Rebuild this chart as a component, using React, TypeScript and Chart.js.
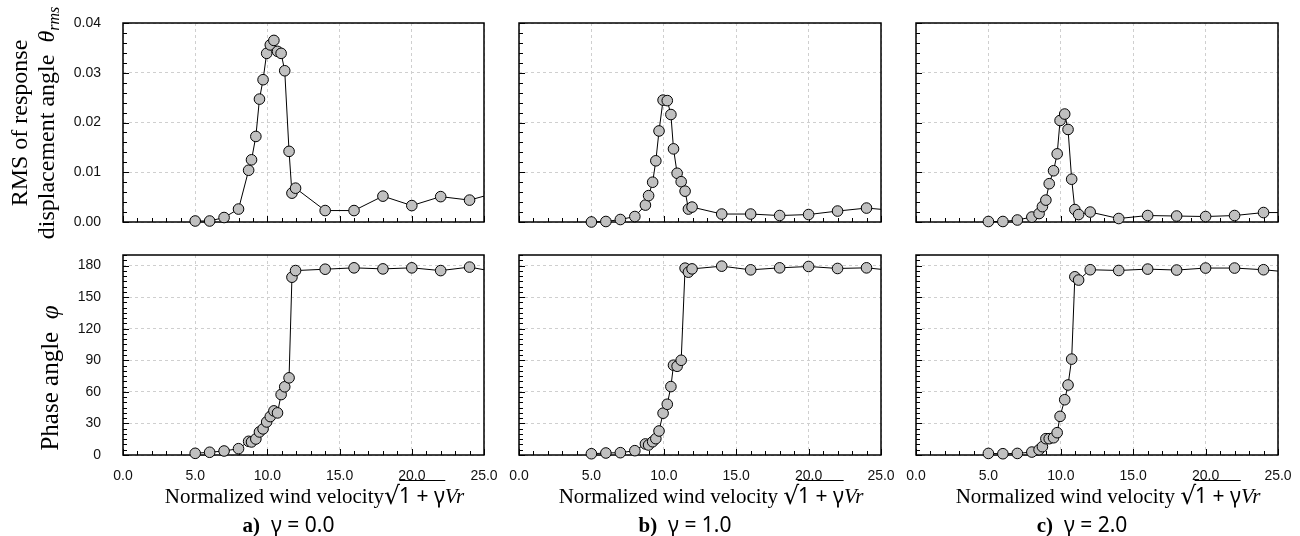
import React, { useEffect, useRef } from "react";
import { Chart, registerables } from "chart.js";

Chart.register(...registerables);

// ---------- data ----------
const velocityA = [5, 6, 7, 8, 8.7, 8.9, 9.2, 9.45, 9.7, 9.95, 10.2, 10.45, 10.7, 10.95, 11.2, 11.5, 11.7, 11.95, 14, 16, 18, 20, 22, 24, 26];
const rmsA = [0.0002, 0.0002, 0.0009, 0.0026, 0.0104, 0.0125, 0.0172, 0.0247, 0.0286, 0.0339, 0.0356, 0.0365, 0.0343, 0.0339, 0.0304, 0.0142, 0.0058, 0.0068, 0.0023, 0.0023, 0.0052, 0.0033, 0.0051, 0.0044, 0.006];
const phaseA = [1.6, 2.6, 3.8, 6.0, 13, 12.4, 15.2, 21.9, 24.8, 31.4, 36.5, 41.9, 40, 57.4, 64.8, 73.3, 168.9, 175.2, 176.5, 177.8, 176.8, 177.8, 175.2, 178.5, 173.5];

const velocityB = [5, 6, 7, 8, 8.73, 8.95, 9.23, 9.45, 9.67, 9.95, 10.24, 10.49, 10.67, 10.92, 11.2, 11.47, 11.7, 11.95, 14, 16, 18, 20, 22, 24, 26];
const rmsB = [0.0, 0.0001, 0.0005, 0.0011, 0.0034, 0.0053, 0.008, 0.0123, 0.0183, 0.0245, 0.0244, 0.0216, 0.0147, 0.0098, 0.0081, 0.0062, 0.0026, 0.003, 0.0016, 0.0016, 0.0013, 0.0015, 0.0022, 0.0028, 0.0023];
const phaseB = [1.2, 1.9, 2.2, 4.1, 10.5, 9.5, 12.6, 15.5, 22.8, 39.7, 48.2, 65, 85.3, 84.3, 90, 177.5, 173.7, 176.8, 179.4, 175.9, 177.8, 179.1, 177.2, 177.8, 175];

const velocityC = [5, 6, 7, 8, 8.5, 8.73, 8.97, 9.2, 9.5, 9.75, 9.95, 10.27, 10.5, 10.75, 10.97, 11.23, 12.03, 14, 16, 18, 20, 22, 24, 26];
const rmsC = [0.0001, 0.0001, 0.0004, 0.001, 0.0017, 0.0031, 0.0044, 0.0077, 0.0103, 0.0137, 0.0204, 0.0217, 0.0186, 0.0086, 0.0025, 0.0015, 0.002, 0.0007, 0.0013, 0.0012, 0.0011, 0.0013, 0.0019, 0.0019];
const phaseC = [1.5, 1.2, 1.5, 2.8, 5, 7.9, 15.5, 15.5, 16.4, 21.2, 36.7, 52.5, 66.5, 91.1, 169.3, 166.2, 176, 175.3, 176.6, 175.7, 177.6, 177.6, 176, 173.4];

const gammaLabels = ["0.0", "1.0", "2.0"];
const panelLetters = ["a)", "b)", "c)"];

const velocityAxis = { min: 0, max: 25, step: 5, minor: 1 };
const rmsAxis = { min: 0, max: 0.04, step: 0.01, minor: 0.002 };
const phaseAxis = { min: 0, max: 190, step: 30, minor: 5 };

// ---------- layout ----------
const colL = [123, 519, 916];
const colR = [484, 881, 1278];
const topRow = { t: 23, b: 222 };
const botRow = { t: 255, b: 455 };

const tickFont = { family: '"Liberation Sans", Arial, sans-serif', size: 14 };

const framePlugin = {
  id: "frameTicks",
  beforeDatasetsDraw(chart: any, _args: any, opts: any) {
    const { ctx, chartArea: a, scales } = chart;
    const xs = scales.x;
    const ys = scales.y;
    ctx.save();
    ctx.strokeStyle = "#000";
    ctx.lineWidth = 1;
    ctx.beginPath();
    const nx = Math.round((opts.xMax - opts.xMin) / opts.xMinor);
    for (let i = 0; i <= nx; i++) {
      const v = opts.xMin + i * opts.xMinor;
      const px = Math.round(xs.getPixelForValue(v)) + 0.5;
      const major = Math.abs(v / opts.xStep - Math.round(v / opts.xStep)) < 1e-6;
      const len = major ? 6 : 4;
      ctx.moveTo(px, a.bottom);
      ctx.lineTo(px, a.bottom - len);
    }
    const ny = Math.round((opts.yMax - opts.yMin) / opts.yMinor);
    for (let i = 0; i <= ny; i++) {
      const v = opts.yMin + i * opts.yMinor;
      const py = Math.round(ys.getPixelForValue(v)) + 0.5;
      const major = Math.abs(v / opts.yStep - Math.round(v / opts.yStep)) < 1e-6;
      const len = major ? 6 : 4;
      ctx.moveTo(a.left, py);
      ctx.lineTo(a.left + len, py);
    }
    ctx.stroke();
    ctx.lineWidth = 1.5;
    ctx.strokeRect(a.left, a.top, a.right - a.left, a.bottom - a.top);
    ctx.restore();
  },
};

type BoxProps = {
  l: number; r: number; t: number; b: number;
  xs: number[]; ys: number[];
  yAxis: { min: number; max: number; step: number; minor: number };
  yDigits: number;
  showY: boolean; showX: boolean;
};

function zeroPad(s: any) {
  s.paddingTop = 0;
  s.paddingBottom = 0;
  s.paddingLeft = 0;
  s.paddingRight = 0;
}

function ChartBox(p: BoxProps) {
  const ref = useRef<HTMLCanvasElement | null>(null);
  const yW = p.showY ? 80 : 10;
  const padTop = 8;
  const padRight = 24;
  const xH = p.showX ? 34 : 8;
  const w = p.r - p.l + yW + padRight;
  const h = p.b - p.t + padTop + xH;

  useEffect(() => {
    if (!ref.current) return;
    const points = p.xs.map((x, i) => ({ x, y: p.ys[i] }));
    const chart = new Chart(ref.current, {
      type: "scatter",
      data: {
        datasets: [
          {
            data: points,
            showLine: true,
            borderColor: "#000",
            borderWidth: 1,
            pointRadius: 5.3,
            pointBorderWidth: 1,
            pointBackgroundColor: "#c0c0c0",
            pointBorderColor: "#000",
            clip: { left: 8, top: 8, right: 0, bottom: 8 } as any,
          } as any,
        ],
      },
      options: {
        animation: false,
        responsive: false,
        events: [],
        layout: { autoPadding: false, padding: { left: 0, top: padTop, right: padRight, bottom: 0 } } as any,
        plugins: {
          legend: { display: false },
          tooltip: { enabled: false },
          frameTicks: {
            xMin: velocityAxis.min, xMax: velocityAxis.max, xStep: velocityAxis.step, xMinor: velocityAxis.minor,
            yMin: p.yAxis.min, yMax: p.yAxis.max, yStep: p.yAxis.step, yMinor: p.yAxis.minor,
          },
        } as any,
        scales: {
          x: {
            type: "linear",
            min: velocityAxis.min,
            max: velocityAxis.max,
            afterFit: (s: any) => { s.height = xH; zeroPad(s); },
            ticks: {
              display: p.showX,
              stepSize: velocityAxis.step,
              font: tickFont,
              color: "#111",
              padding: 13,
              maxRotation: 0,
              autoSkip: false,
              callback: (v: any) => Number(v).toFixed(1),
            },
            grid: { color: "#cfcfcf", lineWidth: 1, drawTicks: false },
            border: { display: false, dash: [3, 3] },
          },
          y: {
            type: "linear",
            min: p.yAxis.min,
            max: p.yAxis.max,
            afterFit: (s: any) => { s.width = yW; zeroPad(s); },
            ticks: {
              display: p.showY,
              stepSize: p.yAxis.step,
              includeBounds: false,
              autoSkip: false,
              font: tickFont,
              color: "#111",
              padding: 22,
              callback: (v: any) => Number(v).toFixed(p.yDigits),
            },
            grid: { color: "#cfcfcf", lineWidth: 1, drawTicks: false },
            border: { display: false, dash: [3, 3] },
          },
        },
      },
      plugins: [framePlugin],
    } as any);
    return () => chart.destroy();
  }, []);

  return (
    <canvas
      ref={ref}
      width={w}
      height={h}
      style={{ position: "absolute", left: p.l - yW, top: p.t - padTop, width: w, height: h }}
    />
  );
}

const serif = '"Liberation Serif", "Times New Roman", serif';
const sans = '"Noto Sans", "DejaVu Sans", sans-serif';

function XTitle({ cx, gap }: { cx: number; gap: boolean }) {
  return (
    <div
      style={{
        position: "absolute", left: cx, top: 484, transform: "translateX(-50%)",
        whiteSpace: "nowrap", fontFamily: serif, fontSize: 21, lineHeight: "21px", color: "#000",
      }}
    >
      Normalized wind velocity{gap ? "\u00a0" : ""}
      <span style={{ fontFamily: '"DejaVu Sans", sans-serif', fontSize: 25, position: "relative", top: 1 }}>√</span>
      <span style={{ fontFamily: sans, borderTop: "1.5px solid #000", marginLeft: -1 }}>1 + γ</span>
      <span style={{ fontStyle: "italic" }}>Vr</span>
    </div>
  );
}

function PanelLabel({ cx, letter, g }: { cx: number; letter: string; g: string }) {
  return (
    <div
      style={{
        position: "absolute", left: cx, top: 514, transform: "translateX(-50%)",
        whiteSpace: "nowrap", fontSize: 21, lineHeight: "21px", color: "#000",
      }}
    >
      <span style={{ fontFamily: serif, fontWeight: "bold" }}>{letter}</span>
      <span style={{ fontFamily: sans }}>{"\u00a0\u00a0γ = " + g}</span>
    </div>
  );
}

export default function App() {
  const sets = [
    { xs: velocityA, rms: rmsA, ph: phaseA },
    { xs: velocityB, rms: rmsB, ph: phaseB },
    { xs: velocityC, rms: rmsC, ph: phaseC },
  ];
  return (
    <div style={{ position: "absolute", left: 0, top: 0, width: 1300, height: 536, overflow: "hidden", background: "#fff" }}>
      {sets.map((s, i) => (
        <React.Fragment key={i}>
          <ChartBox l={colL[i]} r={colR[i]} t={topRow.t} b={topRow.b} xs={s.xs} ys={s.rms} yAxis={rmsAxis} yDigits={2} showY={i === 0} showX={false} />
          <ChartBox l={colL[i]} r={colR[i]} t={botRow.t} b={botRow.b} xs={s.xs} ys={s.ph} yAxis={phaseAxis} yDigits={0} showY={i === 0} showX={true} />
          <XTitle cx={(colL[i] + colR[i]) / 2 + 11} gap={i !== 0} />
          <PanelLabel cx={(colL[i] + colR[i]) / 2 - 15} letter={panelLetters[i]} g={gammaLabels[i]} />
        </React.Fragment>
      ))}
      <div
        style={{
          position: "absolute", left: 33, top: 122.5, transform: "translate(-50%, -50%) rotate(-90deg)",
          whiteSpace: "nowrap", textAlign: "center", fontFamily: serif, fontSize: 24, lineHeight: "27px", color: "#000",
        }}
      >
        <div>RMS of response</div>
        <div>
          displacement angle{"\u00a0\u00a0"}
          <span style={{ fontStyle: "italic" }}>θ</span>
          <span style={{ fontStyle: "italic", fontSize: 16, verticalAlign: "-0.3em", lineHeight: 0 }}>rms</span>
        </div>
      </div>
      <div
        style={{
          position: "absolute", left: 49, top: 378, transform: "translate(-50%, -50%) rotate(-90deg)",
          whiteSpace: "nowrap", fontFamily: serif, fontSize: 25, lineHeight: "27px", color: "#000",
        }}
      >
        Phase angle{"\u00a0\u00a0"}<span style={{ fontStyle: "italic" }}>φ</span>
      </div>
    </div>
  );
}
